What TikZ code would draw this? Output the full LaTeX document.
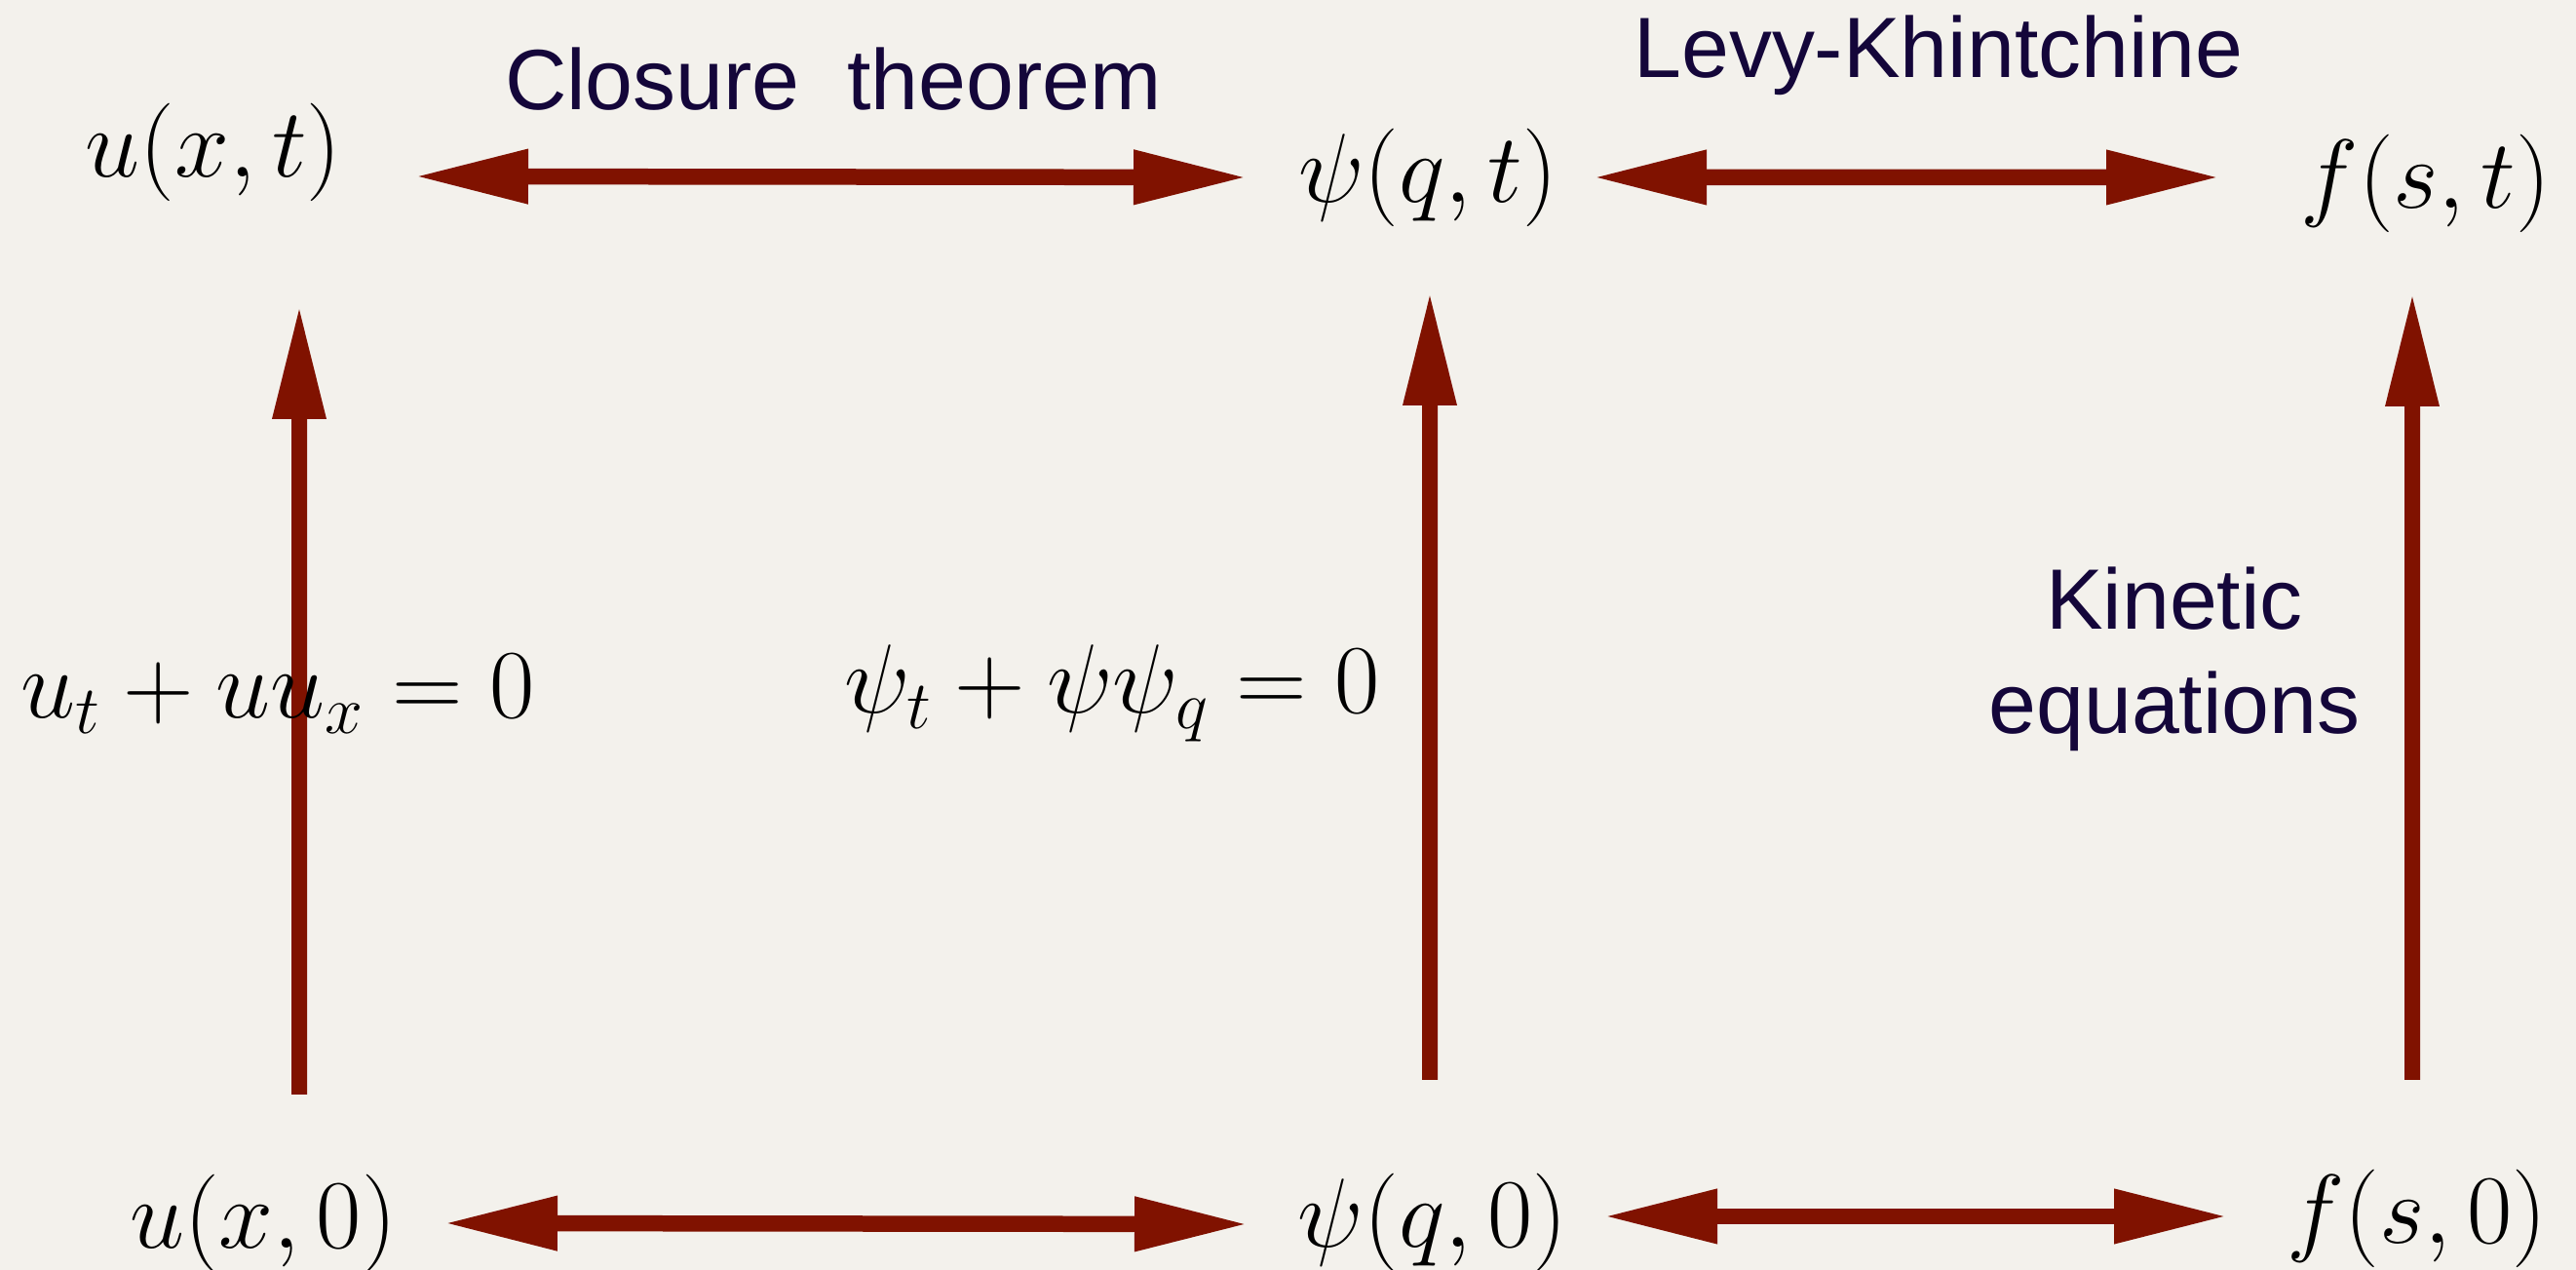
\documentclass[tikz,border=0pt]{standalone}
\usepackage{fontspec}
\usetikzlibrary{arrows.meta,positioning}

\newfontfamily\labelfont{Liberation Sans}
\definecolor{paper}{RGB}{243,241,236}
\definecolor{darkred}{RGB}{128,18,0}
\definecolor{navy}{RGB}{20,6,58}
\newcommand{\mathsize}{\fontsize{26.5}{32}\selectfont}
\newcommand{\bigmath}[1]{\scalebox{1.15}{$#1$}}

\begin{document}
\begin{tikzpicture}[
  fn/.style={inner sep=0pt, font=\mathsize},
  eqn/.style={inner sep=0pt, anchor=base, font=\mathsize},
  lbl/.style={inner sep=0pt, align=center, text=navy, font=\labelfont\fontsize{25}{30.5}\selectfont},
  dbl/.style={{Triangle[length=1.17cm, width=0.52cm]}-{Triangle[length=1.17cm, width=0.52cm]}, line width=0.165cm, draw=darkred},
  upar/.style={-{Triangle[length=1.17cm, width=0.51cm]}, line width=0.16cm, draw=darkred}
]
\fill[paper] (0,0) rectangle (26.43,13.03);
\useasboundingbox (0,0) rectangle (26.43,13.03);

% top row
\node[fn] (uxt) at (2.19,11.47) {\bigmath{u(x,t)}};
\node[fn] (psiqt) at (14.65,11.21) {\bigmath{\psi(q,t)}};
\node[fn] (fst) at (24.89,11.15) {\bigmath{f(s,t)}};

% bottom row
\node[fn] (ux0) at (2.70,0.48) {\bigmath{u(x,0)}};
\node[fn] (psiq0) at (14.70,0.49) {\bigmath{\psi(q,0)}};
\node[fn] (fs0) at (24.80,0.53) {\bigmath{f(s,0)}};

% horizontal links
\draw[dbl] ([shift={(2.06,-0.25)}]uxt.center) -- ([xshift=-1.85cm]psiqt.center);
\draw[dbl] ([xshift=1.69cm]psiqt.center) -- ([shift={(-2.11,0.06)}]fst.center);
\draw[dbl] ([xshift=1.85cm]ux0.center) -- ([shift={(-1.89,-0.02)}]psiq0.center);
\draw[dbl] ([shift={(1.75,0.06)}]psiq0.center) -- ([shift={(-1.94,0.02)}]fs0.center);

% time evolution
\draw[upar] ([shift={(0.37,1.32)}]ux0.center) -- ([shift={(0.88,-1.57)}]uxt.center);
\draw[upar] ([shift={(-0.03,1.46)}]psiq0.center) -- ([shift={(0.02,-1.17)}]psiqt.center);
\draw[upar] ([shift={(-0.05,1.42)}]fs0.center) -- ([shift={(-0.14,-1.12)}]fst.center);

% labels
\node[lbl, anchor=base] (closure) at (8.55,11.90) {Closure\ \ theorem};
\node[lbl, anchor=base] (levy) at (19.89,12.23) {Levy-Khintchine};
\node[lbl] (kinetic) at (22.31,6.27) {Kinetic\\equations};
\node[eqn] (burgers) at (2.85,5.66) {\bigmath{u_t+uu_x=0}};
\node[eqn] (psieq) at (11.41,5.71) {\bigmath{\psi_t+\psi\psi_q=0}};

\end{tikzpicture}
\end{document}
